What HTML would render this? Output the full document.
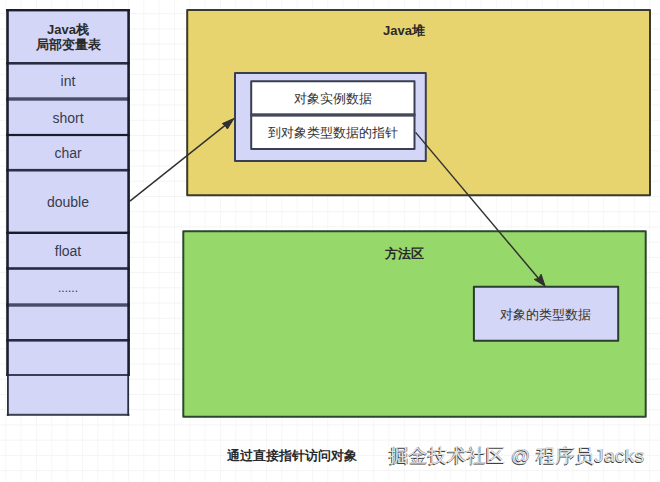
<!DOCTYPE html>
<html><head><meta charset="utf-8"><style>
html,body{margin:0;padding:0;background:#fff;width:660px;height:482px;overflow:hidden}
svg{display:block}
rect{stroke-linejoin:round}
text{font-family:"Liberation Sans",sans-serif;font-size:13px;fill:#333333;text-anchor:middle}
text.b{font-weight:bold}
text.l{font-size:14px;fill:#383b4e}
.m{font-weight:500;fill:#161616}
text.b{fill:#2a2a2a}
.wm{position:absolute;left:389px;top:442.5px;font-family:"Liberation Sans",sans-serif;font-size:19px;color:#e2e2e2;
text-shadow:-0.6px 0.6px 0.3px #404040,0.5px 0.2px 0.3px #8a8a8a;white-space:nowrap;letter-spacing:0.35px}
</style></head><body>
<svg width="660" height="482" viewBox="0 0 660 482">
<g stroke="#F4F4F4" stroke-width="1"><line x1="5.80" y1="0" x2="5.80" y2="482" stroke="#F7F7F7"/><line x1="21.13" y1="0" x2="21.13" y2="482" stroke="#F7F7F7"/><line x1="36.46" y1="0" x2="36.46" y2="482" stroke="#F7F7F7"/><line x1="51.79" y1="0" x2="51.79" y2="482" stroke="#F7F7F7"/><line x1="67.12" y1="0" x2="67.12" y2="482" stroke="#F7F7F7"/><line x1="82.45" y1="0" x2="82.45" y2="482" stroke="#F7F7F7"/><line x1="97.78" y1="0" x2="97.78" y2="482" stroke="#F7F7F7"/><line x1="113.11" y1="0" x2="113.11" y2="482" stroke="#F7F7F7"/><line x1="128.44" y1="0" x2="128.44" y2="482" stroke="#F7F7F7"/><line x1="143.77" y1="0" x2="143.77" y2="482" stroke="#F7F7F7"/><line x1="159.10" y1="0" x2="159.10" y2="482" stroke="#F7F7F7"/><line x1="174.43" y1="0" x2="174.43" y2="482" stroke="#F7F7F7"/><line x1="189.76" y1="0" x2="189.76" y2="482" stroke="#F7F7F7"/><line x1="205.09" y1="0" x2="205.09" y2="482" stroke="#F7F7F7"/><line x1="220.42" y1="0" x2="220.42" y2="482" stroke="#F7F7F7"/><line x1="235.75" y1="0" x2="235.75" y2="482" stroke="#F7F7F7"/><line x1="251.08" y1="0" x2="251.08" y2="482" stroke="#F7F7F7"/><line x1="266.41" y1="0" x2="266.41" y2="482" stroke="#F7F7F7"/><line x1="281.74" y1="0" x2="281.74" y2="482" stroke="#F7F7F7"/><line x1="297.07" y1="0" x2="297.07" y2="482" stroke="#F7F7F7"/><line x1="312.40" y1="0" x2="312.40" y2="482" stroke="#F7F7F7"/><line x1="327.73" y1="0" x2="327.73" y2="482" stroke="#F7F7F7"/><line x1="343.06" y1="0" x2="343.06" y2="482" stroke="#F7F7F7"/><line x1="358.39" y1="0" x2="358.39" y2="482" stroke="#F7F7F7"/><line x1="373.72" y1="0" x2="373.72" y2="482" stroke="#F7F7F7"/><line x1="389.05" y1="0" x2="389.05" y2="482" stroke="#F7F7F7"/><line x1="404.38" y1="0" x2="404.38" y2="482" stroke="#F7F7F7"/><line x1="419.71" y1="0" x2="419.71" y2="482" stroke="#F7F7F7"/><line x1="435.04" y1="0" x2="435.04" y2="482" stroke="#F7F7F7"/><line x1="450.37" y1="0" x2="450.37" y2="482" stroke="#F7F7F7"/><line x1="465.70" y1="0" x2="465.70" y2="482" stroke="#F7F7F7"/><line x1="481.03" y1="0" x2="481.03" y2="482" stroke="#F7F7F7"/><line x1="496.36" y1="0" x2="496.36" y2="482" stroke="#F7F7F7"/><line x1="511.69" y1="0" x2="511.69" y2="482" stroke="#F7F7F7"/><line x1="527.02" y1="0" x2="527.02" y2="482" stroke="#F7F7F7"/><line x1="542.35" y1="0" x2="542.35" y2="482" stroke="#F7F7F7"/><line x1="557.68" y1="0" x2="557.68" y2="482" stroke="#F7F7F7"/><line x1="573.01" y1="0" x2="573.01" y2="482" stroke="#F7F7F7"/><line x1="588.34" y1="0" x2="588.34" y2="482" stroke="#F7F7F7"/><line x1="603.67" y1="0" x2="603.67" y2="482" stroke="#F7F7F7"/><line x1="619.00" y1="0" x2="619.00" y2="482" stroke="#F7F7F7"/><line x1="634.33" y1="0" x2="634.33" y2="482" stroke="#F7F7F7"/><line x1="649.66" y1="0" x2="649.66" y2="482" stroke="#F7F7F7"/><line x1="0" y1="13.70" x2="660" y2="13.70"/><line x1="0" y1="28.93" x2="660" y2="28.93"/><line x1="0" y1="44.16" x2="660" y2="44.16"/><line x1="0" y1="59.39" x2="660" y2="59.39"/><line x1="0" y1="74.62" x2="660" y2="74.62"/><line x1="0" y1="89.85" x2="660" y2="89.85"/><line x1="0" y1="105.08" x2="660" y2="105.08"/><line x1="0" y1="120.31" x2="660" y2="120.31"/><line x1="0" y1="135.54" x2="660" y2="135.54"/><line x1="0" y1="150.77" x2="660" y2="150.77"/><line x1="0" y1="166.00" x2="660" y2="166.00"/><line x1="0" y1="181.23" x2="660" y2="181.23"/><line x1="0" y1="196.46" x2="660" y2="196.46"/><line x1="0" y1="211.69" x2="660" y2="211.69"/><line x1="0" y1="226.92" x2="660" y2="226.92"/><line x1="0" y1="242.15" x2="660" y2="242.15"/><line x1="0" y1="257.38" x2="660" y2="257.38"/><line x1="0" y1="272.61" x2="660" y2="272.61"/><line x1="0" y1="287.84" x2="660" y2="287.84"/><line x1="0" y1="303.07" x2="660" y2="303.07"/><line x1="0" y1="318.30" x2="660" y2="318.30"/><line x1="0" y1="333.53" x2="660" y2="333.53"/><line x1="0" y1="348.76" x2="660" y2="348.76"/><line x1="0" y1="363.99" x2="660" y2="363.99"/><line x1="0" y1="379.22" x2="660" y2="379.22"/><line x1="0" y1="394.45" x2="660" y2="394.45"/><line x1="0" y1="409.68" x2="660" y2="409.68"/><line x1="0" y1="424.91" x2="660" y2="424.91"/><line x1="0" y1="440.14" x2="660" y2="440.14"/><line x1="0" y1="455.37" x2="660" y2="455.37"/><line x1="0" y1="470.60" x2="660" y2="470.60"/></g>
<rect x="7.5" y="10" width="121" height="404.8" fill="#D3D6F7"/><rect x="6.2" y="62.00" width="123.8" height="2.6" fill="#282D42"/><rect x="6.2" y="97.30" width="123.8" height="3.4" fill="#474C69"/><rect x="6.2" y="133.90" width="123.8" height="2.2" fill="#191D2A"/><rect x="6.2" y="168.90" width="123.8" height="2.6" fill="#2A2F45"/><rect x="6.2" y="231.60" width="123.8" height="2.4" fill="#191D2A"/><rect x="6.2" y="267.20" width="123.8" height="2.6" fill="#262B40"/><rect x="6.2" y="303.30" width="123.8" height="3.4" fill="#474C69"/><rect x="6.2" y="339.00" width="123.8" height="2.6" fill="#262B40"/><rect x="6.2" y="374.00" width="123.8" height="2.0" fill="#3A3F58"/><rect x="6.2" y="9" width="123.8" height="2.4" fill="#1B1E2C"/><rect x="6.8" y="413.8" width="122.6" height="2.0" fill="#3A4050"/><rect x="6.2" y="9" width="2.6" height="367" fill="#1B1E2C"/><rect x="127.3" y="9" width="2.6" height="367" fill="#1B1E2C"/><rect x="7.0" y="375" width="1.8" height="40.8" fill="#2A2F40"/><rect x="127.3" y="375" width="1.8" height="40.8" fill="#2A2F40"/>
<rect x="187.2" y="10" width="462.8" height="185.2" fill="#E8D46F" stroke="#3A3A2C" stroke-width="2"/>
<rect x="235" y="73" width="190.8" height="88" fill="#D3D6F7" stroke="#3A3E52" stroke-width="2"/>
<rect x="251.2" y="81.3" width="163.3" height="33.5" fill="#FFFFFF" stroke="#3A3E52" stroke-width="2"/>
<rect x="251.2" y="115.3" width="163.3" height="33.6" fill="#FFFFFF" stroke="#3A3E52" stroke-width="2"/>
<rect x="250.2" y="113.4" width="165.3" height="3.1" fill="#44485A"/>
<rect x="183.3" y="231.2" width="462.4" height="185.6" fill="#97D86A" stroke="#2C4630" stroke-width="2"/>
<rect x="473.9" y="286.8" width="144.3" height="53.9" fill="#D3D6F7" stroke="#2A3E30" stroke-width="2"/>
<path d="M129.9 201.1 L226 124.6" stroke="#303030" stroke-width="1.45" fill="none"/>
<path d="M234 118.4 L222.3 123.6 L225 125.4 L227.4 129 Z" fill="#303030" stroke="#303030" stroke-width="1"/>
<path d="M415.6 132.4 L539 279" stroke="#303030" stroke-width="1.45" fill="none"/>
<path d="M545.1 286.2 L534.2 279.4 L538.6 278.4 L541.1 274.2 Z" fill="#303030" stroke="#303030" stroke-width="1"/>
<text x="68" y="34" class="b">Java栈</text><text x="68" y="49.2" class="b">局部变量表</text><text x="68" y="86.1" class="r l">int</text><text x="68" y="123.1" class="r l">short</text><text x="68" y="157.9" class="r l">char</text><text x="68" y="207.2" class="r l">double</text><text x="68" y="256.1" class="r l">float</text><text x="68" y="292.3" class="r l" style="font-size:12px">......</text><text x="404" y="35" class="b">Java堆</text><text x="333" y="103.3" class="r">对象实例数据</text><text x="333" y="136.5" class="r">到对象类型数据的指针</text><text x="404" y="258.3" class="b">方法区</text><text x="545.7" y="319" class="r">对象的类型数据</text><text x="292" y="459.5" class="b">通过直接指针访问对象</text>
</svg>
<div class="wm">掘金技术社区 @ 程序员Jacks</div>
</body></html>
